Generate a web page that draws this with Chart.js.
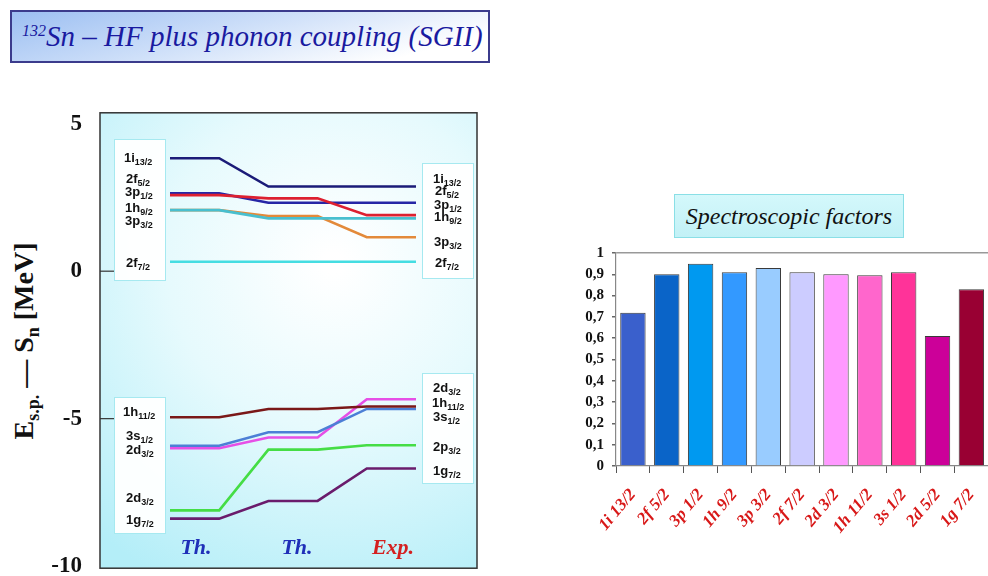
<!DOCTYPE html>
<html>
<head>
<meta charset="utf-8">
<script src="https://cdn.jsdelivr.net/npm/chart.js@4.4.1/dist/chart.umd.min.js"></script>
<style>
  html, body { margin:0; padding:0; width:988px; height:576px; overflow:hidden; background:#fff; }
  body { position:relative; font-family:"Liberation Serif", "Times New Roman", serif; }
  .abs { position:absolute; }
  .serif { font-family:"Liberation Serif", "Times New Roman", "DejaVu Serif", serif; }
  #title {
    left:10px; top:10px; width:466px; height:49px;
    border:2px solid #3b3b8c;
    background: linear-gradient(165deg, #9cbff2 0%, #cfe0f9 45%, #ffffff 85%);
    color:#1a1aa0; font-style:italic; font-size:29px; line-height:49px;
    padding-left:10px; white-space:nowrap;
  }
  #title sup { font-size:16px; vertical-align:top; position:relative; top:-6px; }
  #specTitle {
    left:674px; top:194px; width:228px; height:42px;
    border:1px solid #8adfe6;
    background: linear-gradient(180deg, #d4f8fb 0%, #c2f1f6 100%);
    font-style:italic; font-size:24px; line-height:42px; text-align:center; color:#111;
  }
  #ytitle {
    left:26px; top:341px; transform:translate(-50%,-50%) rotate(-90deg);
    font-weight:bold; font-size:28px; white-space:nowrap; color:#111;
  }
  #ytitle sub { font-size:18px; }
  .box { background:rgba(255,255,255,0.95); border:1px solid #a6e9f0; }
  .lab { position:absolute; font-family:"Liberation Sans Narrow","Liberation Sans", sans-serif; font-weight:bold; font-size:13px; color:#111; white-space:nowrap; transform:translateY(-50%); }
  .lab sub { font-size:9px; vertical-align:-3px; }
  .col { position:absolute; font-weight:bold; font-style:italic; font-size:22px; transform:translate(-50%,-50%); }
  #c1 { left:0; top:81px; }
  #c2 { left:570px; top:236px; }
</style>
</head>
<body>
<div id="title" class="abs serif"><sup>132</sup>Sn – HF plus phonon coupling (SGII)</div>
<div id="ytitle" class="abs serif">E<sub>s.p.</sub> — S<sub>n</sub> [MeV]</div>

<canvas id="c1" class="abs" width="490" height="519" style="width:490px;height:519px"></canvas>

<div class="abs box" style="left:114px;top:139px;width:50px;height:140px"></div>
<div class="abs box" style="left:114px;top:397px;width:50px;height:135px"></div>
<div class="abs box" style="left:422px;top:163px;width:50px;height:114px"></div>
<div class="abs box" style="left:422px;top:373px;width:50px;height:109px"></div>

<div class="lab" style="left:124px;top:158px">1i<sub>13/2</sub></div>
<div class="lab" style="left:126px;top:179px">2f<sub>5/2</sub></div>
<div class="lab" style="left:125px;top:192px">3p<sub>1/2</sub></div>
<div class="lab" style="left:125px;top:208px">1h<sub>9/2</sub></div>
<div class="lab" style="left:125px;top:221px">3p<sub>3/2</sub></div>
<div class="lab" style="left:126px;top:263px">2f<sub>7/2</sub></div>

<div class="lab" style="left:123px;top:412px">1h<sub>11/2</sub></div>
<div class="lab" style="left:126px;top:436px">3s<sub>1/2</sub></div>
<div class="lab" style="left:126px;top:450px">2d<sub>3/2</sub></div>
<div class="lab" style="left:126px;top:498px">2d<sub>3/2</sub></div>
<div class="lab" style="left:126px;top:520px">1g<sub>7/2</sub></div>

<div class="lab" style="left:433px;top:179px">1i<sub>13/2</sub></div>
<div class="lab" style="left:435px;top:191px">2f<sub>5/2</sub></div>
<div class="lab" style="left:434px;top:205px">3p<sub>1/2</sub></div>
<div class="lab" style="left:434px;top:217px">1h<sub>9/2</sub></div>
<div class="lab" style="left:434px;top:242px">3p<sub>3/2</sub></div>
<div class="lab" style="left:435px;top:263px">2f<sub>7/2</sub></div>

<div class="lab" style="left:433px;top:388px">2d<sub>3/2</sub></div>
<div class="lab" style="left:432px;top:403px">1h<sub>11/2</sub></div>
<div class="lab" style="left:433px;top:417px">3s<sub>1/2</sub></div>
<div class="lab" style="left:433px;top:447px">2p<sub>3/2</sub></div>
<div class="lab" style="left:433px;top:471px">1g<sub>7/2</sub></div>

<div class="col serif" style="left:196px;top:547px;color:#1f2fb8">Th.</div>
<div class="col serif" style="left:297px;top:547px;color:#1f2fb8">Th.</div>
<div class="col serif" style="left:393px;top:547px;color:#d42020">Exp.</div>

<div id="specTitle" class="abs serif">Spectroscopic factors</div>
<canvas id="c2" class="abs" width="429" height="340" style="width:429px;height:340px"></canvas>

<script>
// ---- Left chart: single-particle levels (MeV) ----
const levelNames = ['1i13/2','2f5/2','3p1/2','1h9/2','3p3/2','2f7/2','1h11/2','3s1/2','2d3/2','2p3/2','1g7/2'];
const th1Values  = [3.83, 2.58, 2.64, 2.07, 2.07, 0.32, -4.95, -5.92, -6.00, -8.11, -8.39];
const th2Values  = [2.87, 2.47, 2.32, 1.79, 1.87, 0.32, -4.67, -5.46, -5.64, -6.05, -7.79];
const expValues  = [2.87, 1.90, 2.32, 1.79, 1.15, 0.32, -4.59, -4.67, -4.34, -5.90, -6.69];
const levelColors = ['#1b1b78','#dd2030','#2626a6','#48bfcf','#e38a3a','#45dde2','#7a1818','#4c7fd6','#e64fe6','#45dd45','#6a1c6c'];
const yTicks = [5, 0, -5, -10];
const innerTicks = [0, -5];

// ---- Right chart: spectroscopic factors ----
const sfLabels = ['1i 13/2','2f 5/2','3p 1/2','1h 9/2','3p 3/2','2f 7/2','2d 3/2','1h 11/2','3s 1/2','2d 5/2','1g 7/2'];
const sfValues = [0.72, 0.90, 0.95, 0.91, 0.93, 0.91, 0.90, 0.895, 0.91, 0.61, 0.83];
const sfColors = ['#3a60cc','#0a64c8','#0099f0','#3399ff','#99ccff','#ccccff','#ff99ff','#ff66cc','#ff3399','#cc0099','#990033'];

function stepPoints(a, b, c) {
  return [{x:0,y:a},{x:1,y:a},{x:2,y:b},{x:3,y:b},{x:4,y:c},{x:5,y:c}];
}

const bgPlugin = {
  id:'bg',
  beforeDraw(chart) {
    const {ctx, chartArea:a} = chart;
    ctx.save();
    const cx = a.left + a.width*0.62, cy = a.top + a.height*0.33;
    const g = ctx.createRadialGradient(cx, cy, 10, cx, cy, a.width*0.95);
    g.addColorStop(0, '#ffffff');
    g.addColorStop(0.45, '#e6fafd');
    g.addColorStop(1, '#b4eef8');
    ctx.fillStyle = g;
    ctx.fillRect(a.left, a.top, a.width, a.height);
    ctx.restore();
  },
  afterDraw(chart) {
    const {ctx, chartArea:a} = chart;
    const ys = chart.scales.y;
    ctx.save();
    ctx.strokeStyle = '#333';
    ctx.lineWidth = 1.5;
    ctx.strokeRect(a.left, a.top, a.width, a.height);
    ctx.lineWidth = 1.2;
    innerTicks.forEach(v => {
      const p = ys.getPixelForValue(v);
      ctx.beginPath(); ctx.moveTo(a.left, p); ctx.lineTo(a.left + 14, p); ctx.stroke();
    });
    ctx.restore();
  }
};

const datasets = levelNames.map((n, i) => ({
  label: n,
  data: stepPoints(th1Values[i], th2Values[i], expValues[i]),
  borderColor: levelColors[i],
  borderWidth: 2.6,
  pointRadius: 0,
  fill: false,
  tension: 0
}));

new Chart(document.getElementById('c1'), {
  type: 'line',
  data: { datasets },
  options: {
    responsive: false,
    animation: false,
    layout: { padding: { top: 0, bottom: 0, right: 13, left: 0 } },
    plugins: { legend: { display:false }, tooltip: { enabled:false } },
    scales: {
      x: { type:'linear', min:-1.423, max:6.24, display:false },
      y: {
        min: -10.07, max: 5.37,
        afterBuildTicks: s => { s.ticks = yTicks.map(v => ({value:v})); },
        afterFit: s => { s.width = 100; },
        grid: { display:false, drawTicks:false },
        border: { display:false },
        ticks: { color:'#111', padding: 18, font: { family:'"Liberation Serif", serif', size: 23, weight:'bold' } }
      }
    }
  },
  plugins: [bgPlugin]
});

new Chart(document.getElementById('c2'), {
  type: 'bar',
  data: {
    labels: sfLabels,
    datasets: [{
      data: sfValues,
      backgroundColor: sfColors,
      borderColor: '#3a3a3a',
      borderWidth: 1,
      barPercentage: 0.75,
      categoryPercentage: 1.0
    }]
  },
  options: {
    responsive: false,
    animation: false,
    layout: { padding: { top: 14, right: 0, left: 0, bottom: 0 } },
    plugins: { legend: { display:false }, tooltip: { enabled:false } },
    scales: {
      x: {
        afterFit: s => { s.height = 110; },
        grid: { drawOnChartArea:false, offset:true, tickLength:7, color:'#555' },
        border: { color:'#888', width:1.2 },
        ticks: {
          autoSkip:false, minRotation:50, maxRotation:50, padding:12,
          color:'#d81818',
          font: { family:'"Liberation Serif", serif', size: 17, style:'italic', weight:'bold' }
        }
      },
      y: {
        min: 0, max: 1,
        afterFit: s => { s.width = 46; },
        grid: { color: c => (c.tick && c.tick.value === 1) ? '#999' : 'rgba(0,0,0,0)', lineWidth: 1.5, tickLength: 4, tickColor:'#666' },
        border: { color:'#888', width:1.2 },
        ticks: {
          stepSize: 0.1, padding: 8, color:'#111',
          font: { family:'"Liberation Serif", serif', size: 15, weight:'bold' },
          callback: v => String(Math.round(v*10)/10).replace('.', ',')
        }
      }
    }
  }
});
</script>
</body>
</html>
